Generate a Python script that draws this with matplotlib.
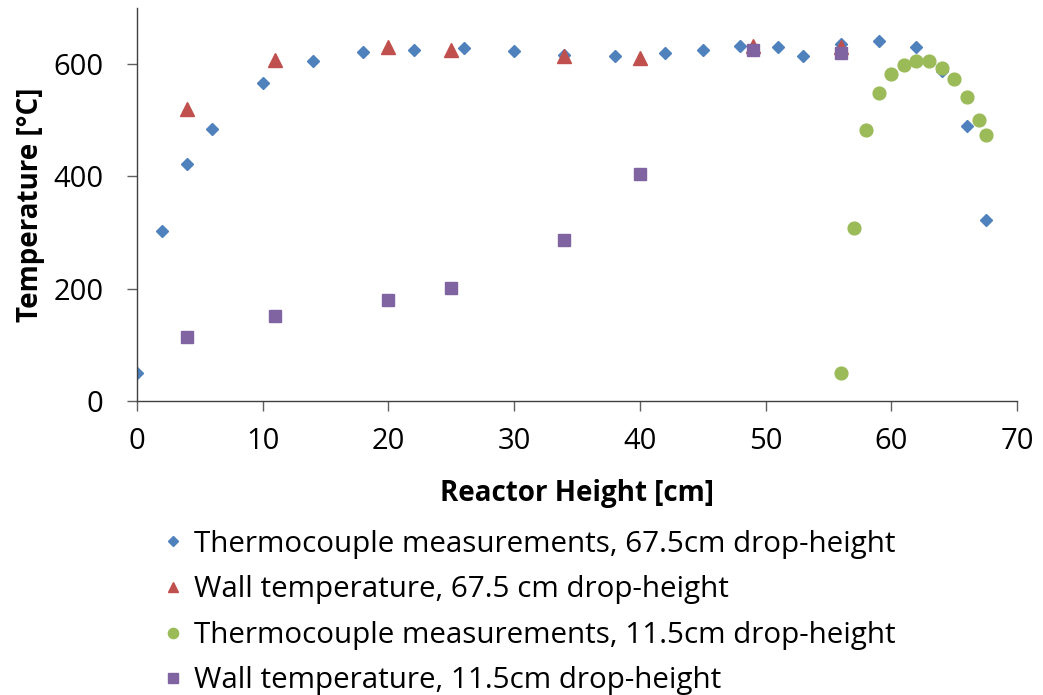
import matplotlib
matplotlib.use("Agg")
import matplotlib.pyplot as plt

plt.rcParams['font.family'] = ['Open Sans', 'DejaVu Sans']

# Thermocouple measurements, 67.5 cm drop-height
tc_67_x = [0, 2, 4, 6, 10, 14, 18, 22, 26, 30, 34, 38, 42, 45, 48, 51, 53, 56, 59, 62, 64, 66, 67.5]
tc_67_y = [50, 303, 423, 485, 567, 606, 622, 626, 628, 624, 617, 615, 619, 626, 633, 631, 615, 635, 642, 631, 588, 490, 322]

# Wall temperature, 67.5 cm drop-height
wall_67_x = [4, 11, 20, 25, 34, 40, 49, 56]
wall_67_y = [520, 608, 631, 626, 615, 611, 633, 631]

# Thermocouple measurements, 11.5 cm drop-height
tc_11_x = [56, 57, 58, 59, 60, 61, 62, 63, 64, 65, 66, 67, 67.5]
tc_11_y = [50, 308, 483, 549, 583, 599, 605, 605, 594, 574, 542, 501, 474]

# Wall temperature, 11.5 cm drop-height
wall_11_x = [4, 11, 20, 25, 34, 40, 49, 56]
wall_11_y = [114, 152, 180, 201, 287, 405, 626, 619]

labels = ["Thermocouple measurements, 67.5cm drop-height",
          "Wall temperature, 67.5 cm drop-height",
          "Thermocouple measurements, 11.5cm drop-height",
          "Wall temperature, 11.5cm drop-height"]

fig = plt.figure(figsize=(10.43, 6.95), dpi=100)
ax = fig.add_axes([0.1314, 0.423, 0.8436, 0.5655])

ax.plot(tc_67_x, tc_67_y, linestyle='none', marker='D', markersize=6.2,
        color='#4F81BD', label=labels[0])
ax.plot(wall_67_x, wall_67_y, linestyle='none', marker='^', markersize=9.5,
        color='#C0504D', label=labels[1])
ax.plot(tc_11_x, tc_11_y, linestyle='none', marker='o', markersize=9.2,
        color='#9BBB59', label=labels[2])
ax.plot(wall_11_x, wall_11_y, linestyle='none', marker='s', markersize=8.2,
        color='#8064A2', label=labels[3])

ax.set_xlim(0, 70)
ax.set_ylim(0, 700)
ax.set_xticks(range(0, 71, 10))
ax.set_yticks([0, 200, 400, 600])
ax.spines['top'].set_visible(False)
ax.spines['right'].set_visible(False)
for s in ['left', 'bottom']:
    ax.spines[s].set_color('#404040')
    ax.spines[s].set_linewidth(1.0)
ax.tick_params(direction='out', length=7, width=1, color='#606060',
               labelsize=21)
ax.tick_params(axis='x', pad=12)
ax.tick_params(axis='y', pad=17)

ax.set_xlabel('Reactor Height [cm]', fontsize=20, fontweight='bold', labelpad=16)
ax.set_ylabel('Temperature [°C]', fontsize=20, fontweight='bold', labelpad=6)

fig.legend(loc='upper left', bbox_to_anchor=(0.145, 0.259), frameon=False,
           fontsize=21.3, handlelength=0.5, handletextpad=0.45,
           labelspacing=0.56, borderpad=0, markerscale=0.8)

fig.savefig('out.png', dpi=100)
